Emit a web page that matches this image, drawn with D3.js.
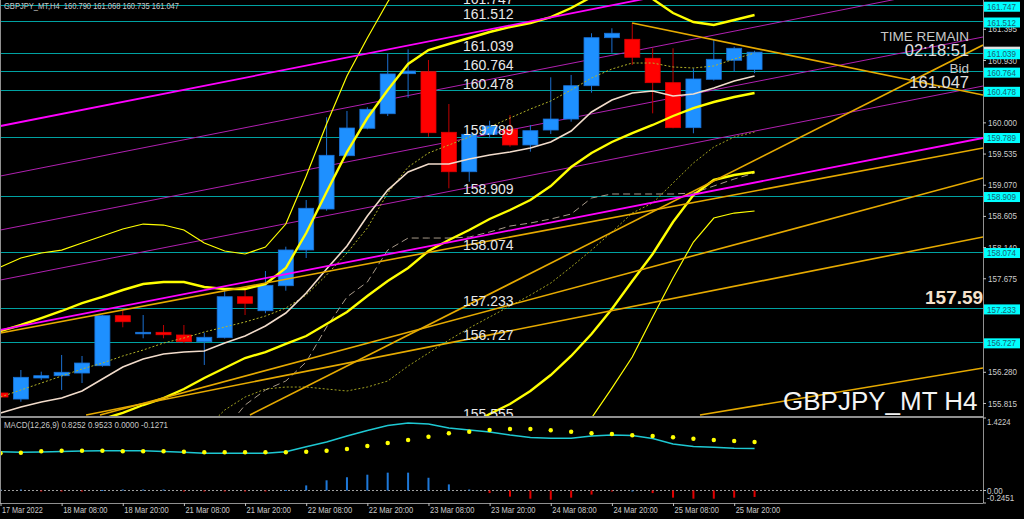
<!DOCTYPE html>
<html><head><meta charset="utf-8">
<script src="https://cdn.jsdelivr.net/npm/d3@7"></script>
<style>body{margin:0;background:#000;overflow:hidden}svg{display:block}</style>
</head><body>
<svg id="c" width="1024" height="519"></svg>
<script>
// ---------- DATA ----------
const xTickIdx  = [0,3,6,9,12,15,18,21,24,27,30,33,36];
const xTickText = ["17 Mar 2022","18 Mar 08:00","18 Mar 20:00","21 Mar 08:00","21 Mar 20:00","22 Mar 08:00","22 Mar 20:00","23 Mar 08:00","23 Mar 20:00","24 Mar 08:00","24 Mar 20:00","25 Mar 08:00","25 Mar 20:00"];

const open  = [155.964,155.874,156.188,156.222,156.262,156.371,157.117,156.848,156.869,156.829,156.729,156.789,157.400,157.191,157.564,158.097,158.708,159.503,159.912,160.129,160.726,160.756,159.852,159.264,159.822,159.897,159.663,159.886,160.050,160.547,161.263,161.239,160.956,160.592,159.921,160.642,160.926,160.790];
const high  = [156.083,156.307,156.282,156.531,156.516,157.127,157.202,157.127,156.978,156.978,156.863,157.500,157.510,157.783,158.146,158.842,160.076,160.170,160.225,161.030,161.090,160.930,160.274,159.822,160.025,160.110,159.961,160.672,160.707,161.329,161.403,161.478,161.105,161.105,160.807,161.239,161.129,161.068];
const low   = [155.860,155.834,156.158,156.009,156.113,156.356,156.944,156.780,156.780,156.710,156.382,156.777,157.127,157.153,157.490,157.977,158.683,159.488,159.897,160.095,160.368,159.786,159.017,159.115,159.763,159.637,159.563,159.827,160.010,160.443,161.039,160.856,160.135,159.912,159.837,160.622,160.756,160.735];
const close = [155.904,156.198,156.222,156.273,156.411,157.117,157.027,156.869,156.833,156.729,156.795,157.400,157.302,157.570,158.097,158.719,159.509,159.916,160.195,160.722,160.766,159.846,159.264,159.822,159.946,159.663,159.876,160.050,160.547,161.263,161.329,160.971,160.592,159.921,160.647,160.941,161.105,161.047];

const bbMid   = [155.009,155.129,155.248,155.367,155.487,155.576,155.666,155.785,155.889,156.023,156.188,156.337,156.486,156.575,156.695,156.814,156.993,157.172,157.410,157.634,157.828,158.082,158.246,158.395,158.559,158.693,158.842,159.051,159.334,159.543,159.707,159.841,159.961,160.095,160.214,160.304,160.378,160.438];
const bbUp2   = [156.888,156.978,157.082,157.187,157.306,157.396,157.500,157.589,157.619,157.619,157.545,157.515,157.515,157.589,157.828,158.350,158.962,159.558,160.065,160.483,160.871,161.079,161.169,161.258,161.348,161.422,161.482,161.571,161.706,161.870,162.123,162.049,161.840,161.631,161.497,161.452,161.527,161.601];
const bbLow2  = [null,null,null,null,null,null,null,null,null,null,null,null,null,null,null,null,null,null,null,null,null,null,155.412,155.487,155.651,155.800,155.994,156.232,156.516,156.844,157.217,157.634,158.037,158.514,158.917,159.141,159.215,159.260];
const bbUp3   = [157.843,157.977,158.052,158.096,158.201,158.305,158.410,158.484,158.469,158.395,158.201,158.082,158.037,158.141,158.484,159.200,159.976,160.692,161.258,161.795,162.272,162.720,null,null,null,null,null,null,null,null,null,null,null,null,null,null,null,null];
const bbLow3  = [null,null,null,null,null,null,null,null,null,null,null,null,null,null,null,null,null,null,null,null,null,null,null,null,null,null,null,null,155.114,155.591,156.038,156.501,157.097,157.679,158.216,158.574,158.648,158.678];
const maWhite = [155.666,155.755,155.830,155.889,155.994,156.173,156.352,156.471,156.545,156.575,156.590,156.710,156.814,156.963,157.157,157.455,157.813,158.156,158.604,158.991,159.260,159.379,159.379,159.454,159.513,159.558,159.618,159.707,159.871,160.155,160.334,160.438,160.468,160.393,160.423,160.513,160.617,160.692];
const maDot1  = [155.904,156.009,156.113,156.217,156.322,156.411,156.516,156.605,156.709,156.784,156.874,156.948,157.023,157.112,157.231,157.425,157.724,158.052,158.425,158.947,159.334,159.543,159.662,159.782,159.931,160.065,160.199,160.319,160.483,160.662,160.796,160.885,160.885,160.826,160.811,160.841,160.945,161.035];
const maDot2  = [null,null,null,null,null,null,null,null,null,null,155.412,155.710,155.904,156.023,156.053,156.053,156.023,155.994,156.053,156.143,156.366,156.560,156.754,156.933,157.097,157.261,157.425,157.604,157.843,158.096,158.365,158.648,158.798,159.096,159.394,159.633,159.782,159.856];
const maDash  = [null,null,null,null,null,null,null,null,null,null,null,155.412,155.785,156.009,156.143,156.426,156.948,157.396,157.619,158.096,158.275,158.275,158.275,158.290,158.365,158.454,158.499,158.559,158.633,158.872,158.932,158.932,158.932,158.932,158.947,159.051,159.155,159.245];

const macdMain = [0.761,0.750,0.756,0.766,0.775,0.781,0.781,0.781,0.766,0.750,0.730,0.730,0.730,0.730,0.761,0.860,0.952,1.069,1.177,1.275,1.324,1.305,1.226,1.187,1.148,1.089,1.040,1.024,1.024,1.069,1.089,1.079,1.020,0.912,0.864,0.848,0.828,0.825];
const macdSignal = [0.730,0.742,0.769,0.781,0.781,0.781,0.769,0.769,0.769,0.761,0.750,0.750,0.750,0.750,0.750,0.761,0.781,0.815,0.873,0.932,0.991,1.056,1.122,1.153,1.187,1.207,1.207,1.181,1.153,1.122,1.109,1.083,1.069,1.044,1.016,0.991,0.971,0.952];
const macdHist = [0.02,0.02,-0.01,-0.01,-0.01,0.01,0.02,0.02,0.02,-0.01,-0.01,-0.01,-0.01,-0.01,0.01,0.10,0.20,0.26,0.31,0.35,0.35,0.25,0.12,0.02,-0.05,-0.12,-0.16,-0.18,-0.14,-0.08,-0.01,0,-0.05,-0.14,-0.16,-0.16,-0.14,-0.127];

const levelPrices = [161.747,161.512,161.039,160.764,160.478,159.789,158.909,158.074,157.233,156.727,155.555];
const levelLabels = ["161.747","161.512","161.039","160.764","160.478","159.789","158.909","158.074","157.233","156.727","155.555"];
const priceTicks = [161.395,160.930,160.000,159.535,159.070,158.605,158.140,157.675,156.280,155.815];
const bidPrice = 161.047;
const macdTicks = [1.4224,0,-0.2451];
const macdTickText = ["1.4224","0.00","-0.2451"];

// trend lines: [barIndex1, price1, barIndex2, price2]
const goldLines = [
  [30.99,161.482,48.21,160.408],
  [0,156.859,48.21,159.618],
  [12.24,155.636,48.21,161.154],
  [4.88,155.636,48.21,159.170],
  [4.20,155.636,48.21,158.291],
  [34.32,155.636,48.21,156.337]
];
const magentaLines = [
  [0,156.904,48.21,159.767],
  [0,159.946,48.21,162.839]
];
const purpleLines = [
  [0,159.200,48.21,162.093],
  [0,158.395,48.21,161.273],
  [0,157.649,48.21,160.542]
];

// ---------- DRAW ----------
const svg = d3.select("#c");
svg.append("rect").attr("width",1024).attr("height",519).attr("fill","#000");
const plotR = 983, mainB = 416, macdT = 418, macdB = 503;
const x = d3.scaleLinear().domain([0,37]).range([0.5, 0.5+20.38*37]);
const y = d3.scaleLinear().domain([155.621,161.825]).range([mainB,0]);
const ym = d3.scaleLinear().domain([-0.2451,1.4224]).range([macdB,macdT]);
const SF = "Liberation Sans, Arial, sans-serif";
const fit = (sel, pxPerChar) => sel.attr("textLength", function(){ return this.textContent.length*pxPerChar; })
  .attr("lengthAdjust","spacingAndGlyphs");

const defs = svg.append("defs");
defs.append("clipPath").attr("id","mc").append("rect").attr("x",0).attr("y",0).attr("width",plotR).attr("height",mainB);
defs.append("clipPath").attr("id","dc").append("rect").attr("x",0).attr("y",macdT).attr("width",plotR).attr("height",macdB-macdT);

const main = svg.append("g").attr("clip-path","url(#mc)");

// horizontal levels
main.selectAll(".lvl").data(levelPrices).join("line")
  .attr("x1",0).attr("x2",plotR).attr("y1",d=>Math.round(y(d))+0.5).attr("y2",d=>Math.round(y(d))+0.5)
  .attr("stroke","#00a2a2").attr("stroke-width",1);

const tl = (g, data, color, w) => g.selectAll(null).data(data).join("line")
  .attr("x1",d=>x(d[0])).attr("y1",d=>y(d[1])).attr("x2",d=>x(d[2])).attr("y2",d=>y(d[3]))
  .attr("stroke",color).attr("stroke-width",w);
tl(main, purpleLines, "#b020b0", 1);

// candles
const cg = main.append("g");
d3.range(open.length).forEach(i=>{
  const bull = close[i] >= open[i];
  cg.append("line").attr("x1",x(i)).attr("x2",x(i)).attr("y1",y(high[i])).attr("y2",y(low[i]))
    .attr("stroke", bull ? "#1b6fd0" : "#c00000").attr("stroke-width",1);
  const top = y(Math.max(open[i],close[i])), bot = y(Math.min(open[i],close[i]));
  cg.append("rect").attr("x",x(i)-7.5).attr("width",15).attr("y",top).attr("height",Math.max(1.5,bot-top))
    .attr("fill", bull ? "#1e90ff" : "#ff0000").attr("stroke", bull ? "#1a72d8" : "#e00000").attr("stroke-width",0.8);
});

// indicator lines
const ln = d3.line().defined(d=>d!=null).x((d,i)=>x(i)).y(d=>y(d));
const ser = (arr, color, w, dash) => main.append("path").datum(arr).attr("d",ln)
  .attr("fill","none").attr("stroke",color).attr("stroke-width",w).attr("stroke-dasharray",dash||null);
ser(maDash, "#a89a8a", 1, "7,4");
ser(maDot2, "#a0a020", 1, "2,2");
ser(maDot1, "#b4b428", 1, "2,2");
ser(maWhite, "#f2dccb", 1.6);
ser(bbUp3, "#ffff00", 1.2);
ser(bbLow3, "#ffff00", 1.2);
ser(bbUp2, "#ffff00", 2.4);
ser(bbMid, "#ffff00", 2.4);
ser(bbLow2, "#ffff00", 2.4);

tl(main, goldLines, "#e6aa00", 1.6);
tl(main, magentaLines, "#ff00ff", 1.8);

// level labels
main.selectAll(".lt").data(levelPrices).join("text")
  .attr("x",463).attr("y",d=>y(d)-1.5).text((d,i)=>levelLabels[i])
  .attr("fill","#e8e8e8").attr("font-family",SF).attr("font-size",14);

// texts in main
main.append("text").attr("x",783).attr("y",410).text("GBPJPY_MT H4")
  .attr("fill","#f4f4f4").attr("font-family",SF).attr("font-size",26);
main.append("text").attr("x",925).attr("y",304).text("157.595")
  .attr("fill","#f5e2cc").attr("font-family",SF).attr("font-size",19).attr("font-weight","bold");
const rt = (t, yy, fs, col) => svg.append("text").attr("x",969).attr("y",yy).attr("text-anchor","end").text(t)
  .attr("fill",col).attr("font-family",SF).attr("font-size",fs);
rt("TIME REMAIN", 41, 13.5, "#c8c8c8");
rt("02:18:51", 56, 16.5, "#e0e0e0");
rt("Bid", 72.5, 13.5, "#c8c8c8");
rt("161.047", 88, 16.5, "#e0e0e0");
svg.append("text").attr("x",4).attr("y",9).text("GBPJPY_MT,H4  160.790 161.068 160.735 161.047")
  .attr("fill","#c8c8c8").attr("font-family",SF).attr("font-size",9).style("white-space","pre")
  .attr("textLength",175).attr("lengthAdjust","spacingAndGlyphs");

// ---------- MACD ----------
const mg = svg.append("g").attr("clip-path","url(#dc)");
mg.append("line").attr("x1",0).attr("x2",plotR).attr("y1",ym(0)).attr("y2",ym(0))
  .attr("stroke","#a0a0a0").attr("stroke-width",1).attr("stroke-dasharray","2,2");
mg.selectAll(".h").data(macdHist).join("rect")
  .attr("x",(d,i)=>x(i)-1).attr("width",2)
  .attr("y",d=>d>=0?ym(d):ym(0)).attr("height",d=>Math.max(1,Math.abs(ym(d)-ym(0))))
  .attr("fill",d=>d>=0?"#1e78d8":"#e00000");
mg.append("path").datum(macdMain).attr("d",d3.line().x((d,i)=>x(i)).y(d=>ym(d)))
  .attr("fill","none").attr("stroke","#1ec8d2").attr("stroke-width",1.6);
mg.selectAll(".s").data(macdSignal).join("circle")
  .attr("cx",(d,i)=>x(i)).attr("cy",d=>ym(d)).attr("r",2.2).attr("fill","#ffff00");
svg.append("text").attr("x",4).attr("y",428).text("MACD(12,26,9) 0.8252 0.9523 0.0000 -0.1271")
  .attr("fill","#c8c8c8").attr("font-family",SF).attr("font-size",9.5)
  .attr("textLength",164).attr("lengthAdjust","spacingAndGlyphs");

// ---------- frames ----------
svg.append("line").attr("x1",0).attr("x2",plotR).attr("y1",417).attr("y2",417).attr("stroke","#909090").attr("stroke-width",2);
svg.append("line").attr("x1",0).attr("x2",plotR).attr("y1",503.5).attr("y2",503.5).attr("stroke","#909090");
svg.append("line").attr("x1",0.5).attr("x2",0.5).attr("y1",0).attr("y2",503).attr("stroke","#909090");

// right price axis
const ax = svg.append("g").attr("transform",`translate(${plotR},0)`)
  .call(d3.axisRight(y).tickValues(priceTicks).tickSize(3).tickFormat(d3.format(".3f")));
ax.select(".domain").attr("stroke","#909090").attr("d",`M0.5,0V${macdB}`);
ax.selectAll(".tick line").attr("stroke","#c0c0c0");
ax.selectAll(".tick text").attr("x",5).attr("fill","#cccccc")
  .attr("font-family",SF).attr("font-size",9.5);
fit(ax.selectAll(".tick text"), 4.15);

// bid box + level boxes
svg.append("rect").attr("x",984).attr("y",y(bidPrice)-5.5).attr("width",36).attr("height",10).attr("fill","#e0e0e0");
const boxes = svg.append("g");
levelPrices.slice(0,10).forEach((p,i)=>{
  const yy = y(p);
  boxes.append("rect").attr("x",984).attr("y",yy-3.5).attr("width",36).attr("height",10).attr("fill","#00ffff");
  boxes.append("text").attr("x",987).attr("y",yy+4.6).text(levelLabels[i]).attr("fill","#1c5f70")
    .attr("font-family",SF).attr("font-size",9.5).attr("textLength",29).attr("lengthAdjust","spacingAndGlyphs");
});

// MACD axis labels
const mOff = [7, 3.5, -2];
const mtx = svg.selectAll(".mt").data(macdTicks).join("text")
  .attr("x",987).attr("y",(d,i)=>ym(d)+mOff[i]).text((d,i)=>macdTickText[i])
  .attr("fill","#cccccc").attr("font-family",SF).attr("font-size",8.5);
fit(mtx, 3.9);
svg.selectAll(".mtl").data(macdTicks).join("line")
  .attr("x1",plotR).attr("x2",plotR+3).attr("y1",d=>ym(d)).attr("y2",d=>ym(d)).attr("stroke","#c0c0c0");

// bottom time axis
const bx = svg.append("g").attr("transform",`translate(0,${macdB})`)
  .call(d3.axisBottom(x).tickValues(xTickIdx).tickSize(3).tickFormat((d,i)=>xTickText[i]));
bx.select(".domain").remove();
bx.selectAll(".tick line").attr("stroke","#c0c0c0");
bx.selectAll(".tick text").attr("text-anchor","start").attr("x",1).attr("y",4).attr("fill","#cccccc")
  .attr("font-family",SF).attr("font-size",9);
fit(bx.selectAll(".tick text"), 3.7);
</script>
</body></html>
